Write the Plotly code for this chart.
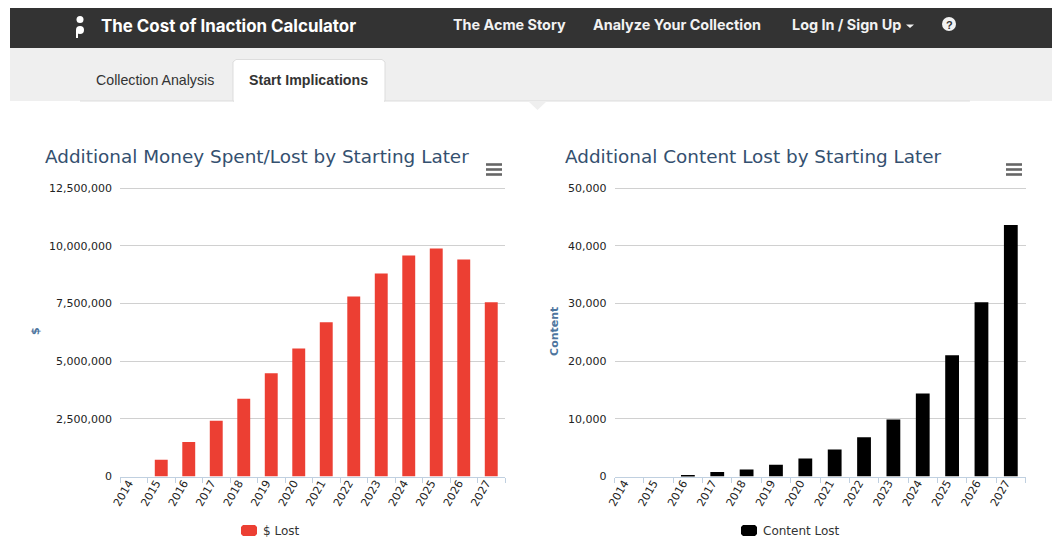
import plotly.graph_objects as go

W, H = 1052, 544
years = ["2014","2015","2016","2017","2018","2019","2020","2021","2022","2023","2024","2025","2026","2027"]
money_lost = [0, 730000, 1500000, 2420000, 3370000, 4470000, 5550000, 6680000, 7800000, 8800000, 9580000, 9880000, 9400000, 7550000]
content_lost = [0, 0, 250, 800, 1200, 2050, 3100, 4700, 6800, 9900, 14400, 21000, 30200, 43600]
money_ticks = [0, 2500000, 5000000, 7500000, 10000000, 12500000]
content_ticks = [0, 10000, 20000, 30000, 40000, 50000]
nav_items = [("The Acme Story", 509), ("Analyze Your Collection", 677), ("Log In / Sign Up", 846)]

def px(x): return x / W
def py(y): return 1 - y / H

def rect(x0, y0, x1, y1, color):
    return dict(type="rect", xref="paper", yref="paper", x0=px(x0), x1=px(x1), y0=py(y0), y1=py(y1),
                fillcolor=color, line_width=0, layer="below")

def path(points, fill=None, line=None, lw=1, layer="below"):
    d = "M " + " L ".join(f"{px(a):.5f},{py(b):.5f}" for a, b in points)
    if fill:
        d += " Z"
    return dict(type="path", xref="paper", yref="paper", path=d, fillcolor=fill,
                line=dict(color=line, width=lw if line else 0), layer=layer)

def text(x, y, s, size, color, family, anchor="left", bold=False):
    return dict(xref="paper", yref="paper", x=px(x), y=py(y), text=f"<b>{s}</b>" if bold else s,
                showarrow=False, xanchor=anchor, yanchor="middle", borderpad=0,
                font=dict(size=size, color=color, family=family))

def swatch(x0, x1, y0, y1, color):
    r = 2
    pts = [(x0 + r, y0), (x1 - r, y0), (x1, y0 + r), (x1, y1 - r), (x1 - r, y1), (x0 + r, y1), (x0, y1 - r), (x0, y0 + r)]
    return path(pts, fill=color, layer="above")

RED = "#ec3f33"
BLACK = "#000000"

shapes = [
    rect(10, 8, 1052, 48, "#333333"),
    rect(10, 48, 1052, 101, "#efefef"),
    path([(80, 101), (970, 101)], line="#dddddd", lw=1),
    path([(233, 101), (233, 62), (236, 59.5), (382, 59.5), (385, 62), (385, 101)], fill="#ffffff", line="#dddddd", lw=1),
    rect(234, 62, 384, 103, "#ffffff"),
    path([(528, 101), (547, 101), (537.5, 110)], fill="#efefef"),
    dict(type="circle", xref="paper", yref="paper", x0=px(76.5), x1=px(83.5), y0=py(23), y1=py(16), fillcolor="#ffffff", line_width=0),
    dict(type="circle", xref="paper", yref="paper", x0=px(76), x1=px(84), y0=py(34), y1=py(26), fillcolor="#ffffff", line_width=0),
    path([(76, 30), (78, 30), (78, 38), (76, 38)], fill="#ffffff", layer="above"),
    dict(type="circle", xref="paper", yref="paper", x0=px(942), x1=px(956), y0=py(31), y1=py(17), fillcolor="#f2f2f2", line_width=0),
    path([(906, 24.5), (914, 24.5), (910, 28)], fill="#f2f2f2"),
    swatch(241, 257, 525, 536, RED),
    swatch(741, 757, 525, 536, BLACK),
]
for cx in (494, 1014):
    for yy in (164.5, 169.5, 174.5):
        shapes.append(path([(cx - 8, yy), (cx + 8, yy)], line="#666666", lw=2.6, layer="above"))

sans = "Liberation Sans"
deja = "DejaVu Sans"
head = "Inter"
annotations = [
    text(100, 25.5, "The Cost of Inaction Calculator", 16.9, "#ffffff", head, bold=True),
    text(95, 80.5, "Collection Analysis", 14.2, "#333333", sans),
    text(248, 80.5, "Start Implications", 14.2, "#333333", sans, bold=True),
    text(949, 24.5, "?", 11, "#333333", sans, anchor="center", bold=True),
    text(44, 156.5, "Additional Money Spent/Lost by Starting Later", 18.4, "#34506f", deja),
    text(564, 156.5, "Additional Content Lost by Starting Later", 18.4, "#34506f", deja),
    text(262, 530.5, "$ Lost", 12, "#333333", deja),
    text(762, 530.5, "Content Lost", 12, "#333333", deja),
]
for label, cx in nav_items:
    annotations.append(text(cx, 25, label, 14.4, "#f2f2f2", head, anchor="center", bold=True))

fig = go.Figure()
fig.add_bar(x=years, y=money_lost, name="$ Lost", marker=dict(color=RED, line_width=0), xaxis="x", yaxis="y")
fig.add_bar(x=years, y=content_lost, name="Content Lost", marker=dict(color=BLACK, line_width=0), xaxis="x2", yaxis="y2")

def xaxis(x0, x1, anchor):
    return dict(domain=[px(x0), px(x1)], anchor=anchor, type="category", tickson="boundaries",
                ticks="outside", ticklen=5, tickcolor="#c0d0e0", tickwidth=1, showline=True,
                linecolor="#c0d0e0", linewidth=1, showgrid=False, tickangle=-60, zeroline=False,
                ticklabelshift=-5, ticklabelstandoff=-5,
                tickfont=dict(size=11, color="#222222", family=deja), fixedrange=True)

# 2 px of headroom above the top tick keeps its gridline from being clipped at the plot edge
BASE_Y = 476.5
TOP_Y = 188
PAD = 2

def yaxis(ticks, title, anchor, standoff):
    top = ticks[-1]
    return dict(domain=[py(BASE_Y), py(TOP_Y - PAD)], anchor=anchor,
                range=[0, top * (1 + PAD / (BASE_Y - TOP_Y))], tickvals=ticks,
                tickformat=",d", showgrid=True, gridcolor="#d0d0d0", gridwidth=1.4, zeroline=False,
                showline=False, ticks="", ticklabelstandoff=7,
                tickfont=dict(size=11, color="#222222", family=deja), fixedrange=True,
                title=dict(text=f"<b>{title}</b>", standoff=standoff,
                           font=dict(size=11, color="#4d759e", family=deja)))

fig.update_layout(
    width=W, height=H, margin=dict(l=0, r=0, t=0, b=0, autoexpand=False), paper_bgcolor="#ffffff", plot_bgcolor="#ffffff",
    bargap=0.53, shapes=shapes, annotations=annotations, showlegend=False,
    xaxis=xaxis(120, 505, "y"), yaxis=yaxis(money_ticks, "$", "x", 7),
    xaxis2=xaxis(614.5, 1025.5, "y2"), yaxis2=yaxis(content_ticks, "Content", "x2", 7),
)
fig.write_html("out.html", config=dict(displayModeBar=False),
               post_script="document.body.style.margin='0';document.body.style.overflow='hidden';")
